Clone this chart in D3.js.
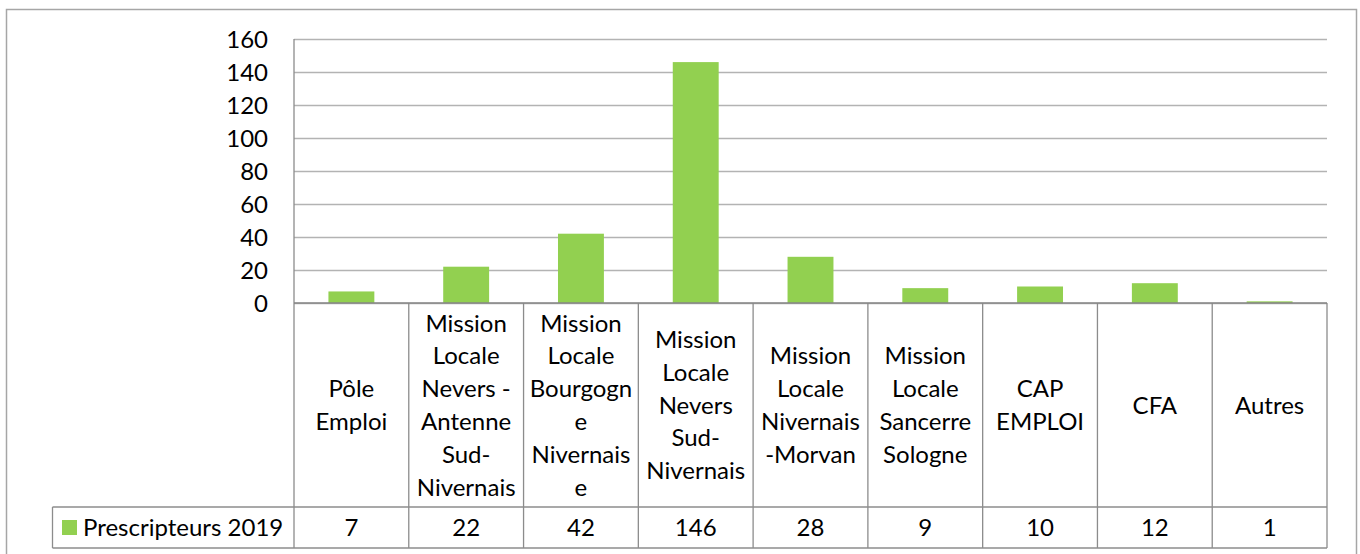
<!DOCTYPE html>
<html>
<head>
<meta charset="utf-8">
<script src="https://cdn.jsdelivr.net/npm/d3@7"></script>
<style>
  html, body { margin: 0; padding: 0; background: #fff; }
  svg { display: block; font-family: Lato, "Open Sans", sans-serif; }
</style>
</head>
<body>
<svg id="chart" width="1360" height="554"></svg>
<script>
// data
const categories = [
  "Pôle\nEmploi",
  "Mission\nLocale\nNevers -\nAntenne\nSud-\nNivernais",
  "Mission\nLocale\nBourgogn\ne\nNivernais\ne",
  "Mission\nLocale\nNevers\nSud-\nNivernais",
  "Mission\nLocale\nNivernais\n-Morvan",
  "Mission\nLocale\nSancerre\nSologne",
  "CAP\nEMPLOI",
  "CFA",
  "Autres"
];
const seriesName = "Prescripteurs 2019";
const values = [7, 22, 42, 146, 28, 9, 10, 12, 1];
const yTicks = [0, 20, 40, 60, 80, 100, 120, 140, 160];

const svg = d3.select("#chart");
const plotLeft = 294, plotRight = 1327, plotTop = 39, base = 303;
const headBottom = 507, rowBottom = 548, legendLeft = 52.5;
const fs = 24;
const green = "#92d050";

const x = d3.scaleBand().domain(d3.range(categories.length)).range([plotLeft, plotRight]).paddingInner(0);
const y = d3.scaleLinear().domain([0, 160]).range([base, plotTop]);

// outer frame
svg.append("rect")
    .attr("x", 6.5).attr("y", 9.5)
    .attr("width", 1350).attr("height", 600)
    .attr("fill", "none").attr("stroke", "#a6a6a6").attr("stroke-width", 1.5);

// gridlines
const grid = svg.append("g")
    .attr("transform", "translate(" + plotLeft + ",0)")
    .call(d3.axisLeft(y).tickValues(yTicks).tickSize(-(plotRight - plotLeft)).tickFormat(""));
grid.select(".domain").remove();
grid.selectAll("line").attr("stroke", "#b3b3b3").attr("stroke-width", 1.3);

// y axis labels
const yAxis = svg.append("g")
    .attr("transform", "translate(" + plotLeft + ",0)")
    .call(d3.axisLeft(y).tickValues(yTicks).tickSize(0).tickPadding(26));
yAxis.select(".domain").remove();
yAxis.selectAll("text")
    .attr("font-size", fs).attr("fill", "#000")
    .attr("font-family", "Lato, sans-serif")
    .attr("dy", "0.36em");

// bars
const barW = x.bandwidth() * 0.4;
svg.selectAll(".bar")
  .data(values)
  .enter().append("rect")
    .attr("class", "bar")
    .attr("x", (d, i) => x(i) + (x.bandwidth() - barW) / 2)
    .attr("y", d => y(d))
    .attr("width", barW)
    .attr("height", d => y(0) - y(d))
    .attr("fill", green);

// data table lines
const lines = svg.append("g").attr("stroke", "#8c8c8c").attr("stroke-width", 1.3);
lines.append("line").attr("x1", plotLeft).attr("x2", plotLeft).attr("y1", plotTop).attr("y2", rowBottom);
x.domain().forEach(i => {
  lines.append("line")
      .attr("x1", x(i) + x.bandwidth()).attr("x2", x(i) + x.bandwidth())
      .attr("y1", base).attr("y2", rowBottom);
});
lines.append("line").attr("x1", legendLeft).attr("x2", plotRight).attr("y1", headBottom).attr("y2", headBottom);
lines.append("line").attr("x1", legendLeft).attr("x2", plotRight).attr("y1", rowBottom).attr("y2", rowBottom);
lines.append("line").attr("x1", legendLeft).attr("x2", legendLeft).attr("y1", headBottom).attr("y2", rowBottom);
// axis line at zero
svg.append("line")
    .attr("x1", plotLeft).attr("x2", plotRight).attr("y1", y(0)).attr("y2", y(0))
    .attr("stroke", "#868686").attr("stroke-width", 1.6);

// category labels
const headMid = (base + headBottom) / 2;
const lineH = 32.8;
categories.forEach((c, i) => {
  const parts = c.split("\n");
  const t = svg.append("text")
      .attr("transform", "translate(" + (x(i) + x.bandwidth() / 2) + "," + headMid + ")")
      .attr("text-anchor", "middle")
      .attr("font-size", fs)
      .attr("fill", "#000");
  parts.forEach((p, k) => {
    t.append("tspan")
        .attr("x", 0)
        .attr("y", (k - (parts.length - 1) / 2) * lineH)
        .attr("dy", "0.36em")
        .text(p);
  });
});

// value row
const rowMid = (headBottom + rowBottom) / 2;
svg.selectAll(".val")
  .data(values)
  .enter().append("text")
    .attr("class", "val")
    .attr("x", (d, i) => x(i) + x.bandwidth() / 2)
    .attr("y", rowMid)
    .attr("text-anchor", "middle")
    .attr("dy", "0.36em")
    .attr("font-size", fs)
    .text(d => d);

// legend key in the table
svg.append("rect")
    .attr("x", 62).attr("y", rowMid - 7.5)
    .attr("width", 15).attr("height", 15)
    .attr("fill", green);
svg.append("text")
    .attr("x", 83).attr("y", rowMid)
    .attr("dy", "0.36em")
    .attr("font-size", fs)
    .text(seriesName);
</script>
</body>
</html>
